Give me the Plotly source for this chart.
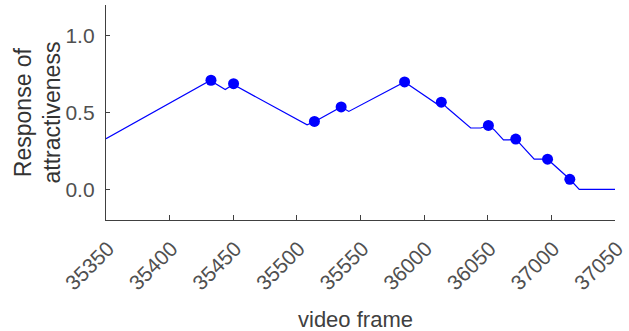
import plotly.graph_objects as go

# Tick labels along the frame axis (evenly spaced positions 0..8)
frame_labels = ["35350", "35400", "35450", "35500", "35550",
                "36000", "36050", "37000", "37050"]
tick_pos = list(range(len(frame_labels)))

# Continuous response curve (x in tick-position units)
curve_x = [0.0, 1.638, 1.874, 2.0, 3.16, 3.276, 3.696, 3.816, 4.693,
           5.197, 5.276, 5.365, 5.732, 5.89, 6.01, 6.099, 6.247, 6.335,
           6.441, 6.73, 6.835, 6.94, 7.29, 7.438, 8.0]
curve_y = [0.329, 0.708, 0.649, 0.682, 0.420, 0.440, 0.536, 0.507, 0.699,
           0.557, 0.567, 0.529, 0.399, 0.399, 0.416, 0.388, 0.322, 0.322,
           0.327, 0.196, 0.196, 0.196, 0.065, 0.0, 0.0]

# Highlighted key frames
key_x = [1.65, 2.005, 3.276, 3.696, 4.693, 5.27, 6.01, 6.44, 6.94, 7.29]
key_y = [0.71, 0.688, 0.442, 0.536, 0.699, 0.567, 0.416, 0.327, 0.196, 0.065]

BLUE = "#0000ff"
AXIS = "#404040"
FONT = "Liberation Sans, Arial, sans-serif"

fig = go.Figure()
fig.add_trace(go.Scatter(x=curve_x, y=curve_y, mode="lines",
                         line=dict(color=BLUE, width=1.2),
                         hoverinfo="skip", showlegend=False))
fig.add_trace(go.Scatter(x=key_x, y=key_y, mode="markers",
                         marker=dict(color=BLUE, size=11, line=dict(width=0)),
                         showlegend=False))

axis_common = dict(showline=True, linecolor=AXIS, linewidth=1.3,
                   ticks="inside", tickcolor=AXIS, tickwidth=1.2,
                   showgrid=False, zeroline=False, mirror=False,
                   automargin=False)

fig.update_xaxes(range=[0, 8], tickvals=tick_pos, ticktext=frame_labels,
                 tickangle=-45, ticklen=5, ticklabelshift=2,
                 ticklabelstandoff=7, ticklabeloverflow="allow",
                 tickfont=dict(family=FONT, size=21, color="#505050"),
                 **axis_common)
fig.update_yaxes(range=[-0.2, 1.2], tickvals=[0, 0.5, 1.0],
                 tickformat=".1f", ticklen=4, ticklabelstandoff=6,
                 tickfont=dict(family=FONT, size=21, color="#505050"),
                 **axis_common)

fig.add_annotation(text="Response of<br>attractiveness", textangle=-90,
                   xref="paper", yref="paper", x=0, y=0.5,
                   xanchor="center", yanchor="middle", xshift=-69,
                   showarrow=False,
                   font=dict(family=FONT, size=23, color="#333333"))
fig.add_annotation(text="video frame", xref="paper", yref="paper",
                   x=0.49, y=0, xanchor="center", yanchor="middle",
                   yshift=-99, showarrow=False,
                   font=dict(family=FONT, size=22, color="#404040"))

fig.update_layout(width=629, height=331,
                  margin=dict(l=106, r=14, t=5, b=111),
                  plot_bgcolor="white", paper_bgcolor="white")

fig.write_html("out.html")
